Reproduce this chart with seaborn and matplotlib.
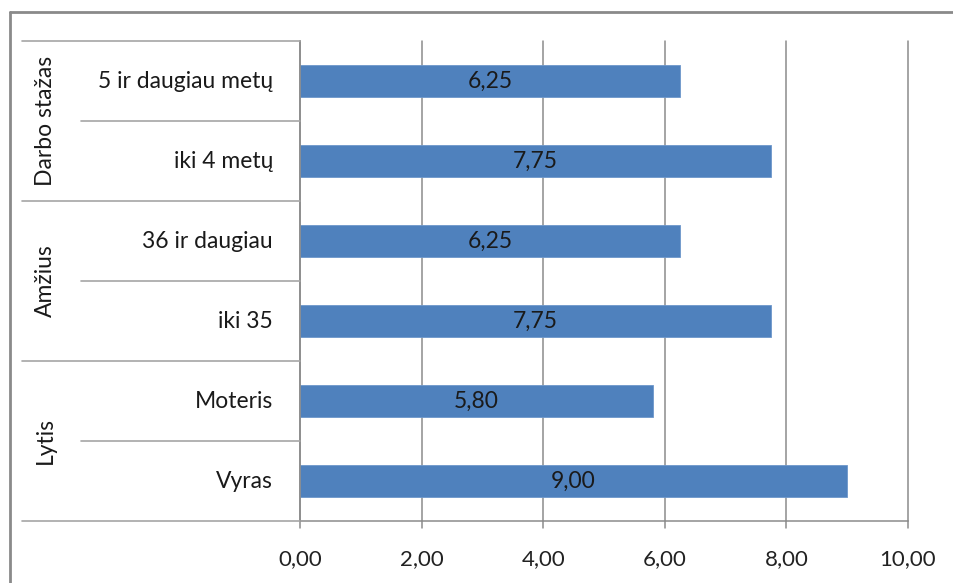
import matplotlib
matplotlib.use("Agg")
import matplotlib.pyplot as plt
import seaborn as sns
import pandas as pd
from matplotlib.lines import Line2D
from matplotlib.transforms import blended_transform_factory

# Data
groups = ["Darbo stažas", "Amžius", "Lytis"]
categories = ["5 ir daugiau metų", "iki 4 metų", "36 ir daugiau", "iki 35", "Moteris", "Vyras"]
group_of = ["Darbo stažas", "Darbo stažas", "Amžius", "Amžius", "Lytis", "Lytis"]
values = [6.25, 7.75, 6.25, 7.75, 5.80, 9.00]
xticks = [0, 2, 4, 6, 8, 10]
xtick_labels = ["0,00", "2,00", "4,00", "6,00", "8,00", "10,00"]

df = pd.DataFrame({"kategorija": categories, "grupe": group_of, "reiksme": values})

sns.set_theme(style="white")
plt.rcParams["font.family"] = ["Lato", "DejaVu Sans"]

W, H = 954, 583
fig = plt.figure(figsize=(W / 100, H / 100), dpi=100)
ax = fig.add_axes([300 / W, 1 - 521 / H, (908 - 300) / W, (521 - 41) / H])

bar_color = "#4F81BD"
sns.barplot(data=df, x="reiksme", y="kategorija", order=categories, orient="h",
            color=bar_color, width=0.4, saturation=1, ax=ax, edgecolor="#6D97CB",
            linewidth=0.6, zorder=2)

ax.set_xlim(0, 10)
ax.set_ylim(len(categories) - 0.5, -0.5)
ax.set_xlabel("")
ax.set_ylabel("")
ax.set_xticks(xticks)
ax.set_xticklabels(xtick_labels, fontsize=16, color="#222222")
ax.set_yticks([])
ax.tick_params(axis="x", length=0, pad=20)

for s in ["top", "right", "bottom"]:
    ax.spines[s].set_visible(False)
ax.spines["left"].set_color("#8C8C8C")
ax.spines["left"].set_linewidth(1.2)

grid_c = "#8C8C8C"
for xv in xticks:
    ax.axvline(xv, color=grid_c, linewidth=1.1, zorder=1, clip_on=False)
    ax.plot([xv, xv], [len(categories) - 0.5, len(categories) - 0.5 + 0.09],
            color=grid_c, linewidth=1.1, clip_on=False)
ax.axhline(len(categories) - 0.5, color=grid_c, linewidth=1.1, clip_on=False)

# Value labels centred inside bars
for i, v in enumerate(values):
    ax.text(v / 2, i, f"{v:.2f}".replace(".", ","), ha="center", va="center",
            fontsize=16.5, color="#1a1a1a", zorder=3)

# Multi-level category axis drawn beside the plot area
tr = blended_transform_factory(fig.transFigure, ax.transData)
x_outer = 22 / W
x_inner = 81 / W
x_axis = 300 / W
sep_c = "#A6A6A6"
# boundaries between groups
for yb in [-0.5, 1.5, 3.5, 5.5]:
    fig.add_artist(Line2D([x_outer, x_axis], [yb, yb], transform=tr, color=sep_c, linewidth=1.2))
# boundaries between categories inside a group
for yb in [0.5, 2.5, 4.5]:
    fig.add_artist(Line2D([x_inner, x_axis], [yb, yb], transform=tr, color=sep_c, linewidth=1.2))

for i, c in enumerate(categories):
    fig.text(273 / W, 0, c, transform=tr, ha="right", va="center", fontsize=16.5,
             color="#1a1a1a").set_y(i)

for gi, g in enumerate(groups):
    fig.text(45 / W, 0, g, transform=tr, ha="center", va="center", rotation=90,
             fontsize=16.5, color="#1a1a1a").set_y(gi * 2 + 0.5)

# Chart frame
frame_c = "#8A8A8A"
fig.add_artist(Line2D([10 / W, 10 / W], [0, 1 - 12 / H], transform=fig.transFigure,
                      color=frame_c, linewidth=2))
fig.add_artist(Line2D([10 / W, 1], [1 - 12 / H, 1 - 12 / H], transform=fig.transFigure,
                      color=frame_c, linewidth=2))

fig.savefig("out.png", dpi=100, facecolor="white")
